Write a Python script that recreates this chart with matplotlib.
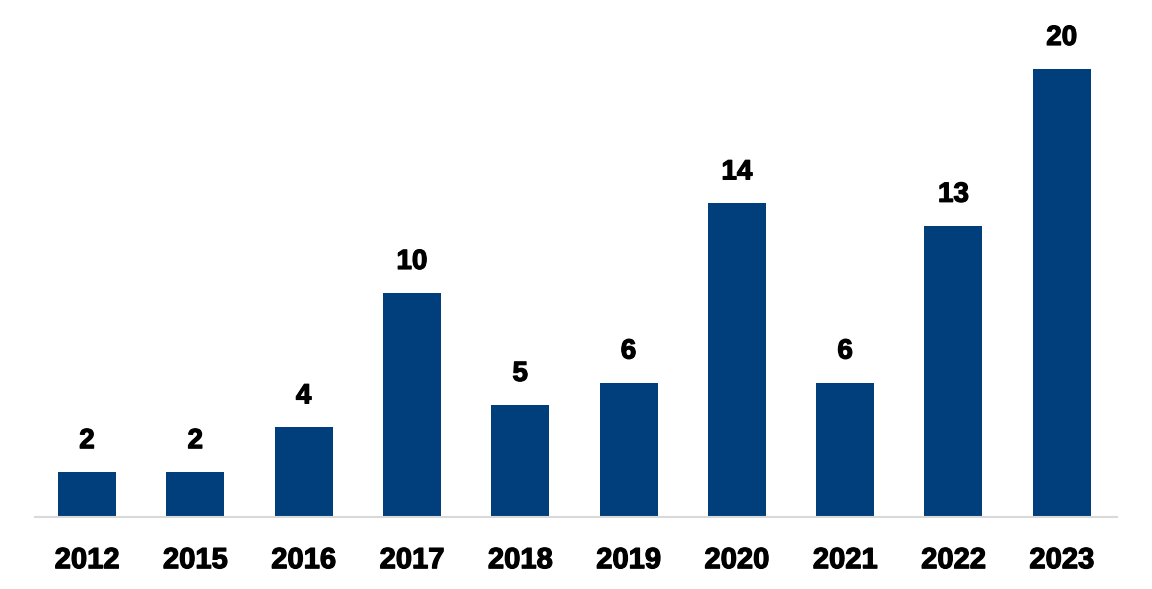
import numpy as np
import matplotlib
matplotlib.use("Agg")
import matplotlib.pyplot as plt
import matplotlib.patheffects as pe

plt.rcParams["font.family"] = ["Liberation Sans", "DejaVu Sans"]

years = ["2012", "2015", "2016", "2017", "2018", "2019", "2020", "2021", "2022", "2023"]
counts = [2, 2, 4, 10, 5, 6, 14, 6, 13, 20]

BLUE = "#003f7c"
heavy = [pe.withStroke(linewidth=0.9, foreground="black")]

fig = plt.figure(figsize=(11.52, 5.89), dpi=100)
ax = fig.add_axes([35 / 1152, 72 / 589, 1082 / 1152, 497 / 589])

x = np.arange(len(years))
bars = ax.bar(x, counts, width=0.535, color=BLUE)
for bar, val in zip(bars, counts):
    ax.annotate(f"{val}", xy=(bar.get_x() + bar.get_width() / 2, bar.get_height()),
                xytext=(0, 13), textcoords="offset points",
                ha="center", va="bottom", fontsize=20, fontweight="bold", color="black",
                path_effects=heavy)

ax.set_xlim(-0.48, 9.51)
ax.set_ylim(0, 22.19)
ax.set_xticks(x)
ax.set_xticklabels(years, fontsize=21, fontweight="bold", path_effects=heavy)
ax.tick_params(axis="x", length=0, pad=21)
ax.set_yticks([])
for s in ["top", "right", "left"]:
    ax.spines[s].set_visible(False)
ax.spines["bottom"].set_color("#d9d9d9")
ax.spines["bottom"].set_linewidth(1.5)

plt.savefig("out.png", dpi=100)
